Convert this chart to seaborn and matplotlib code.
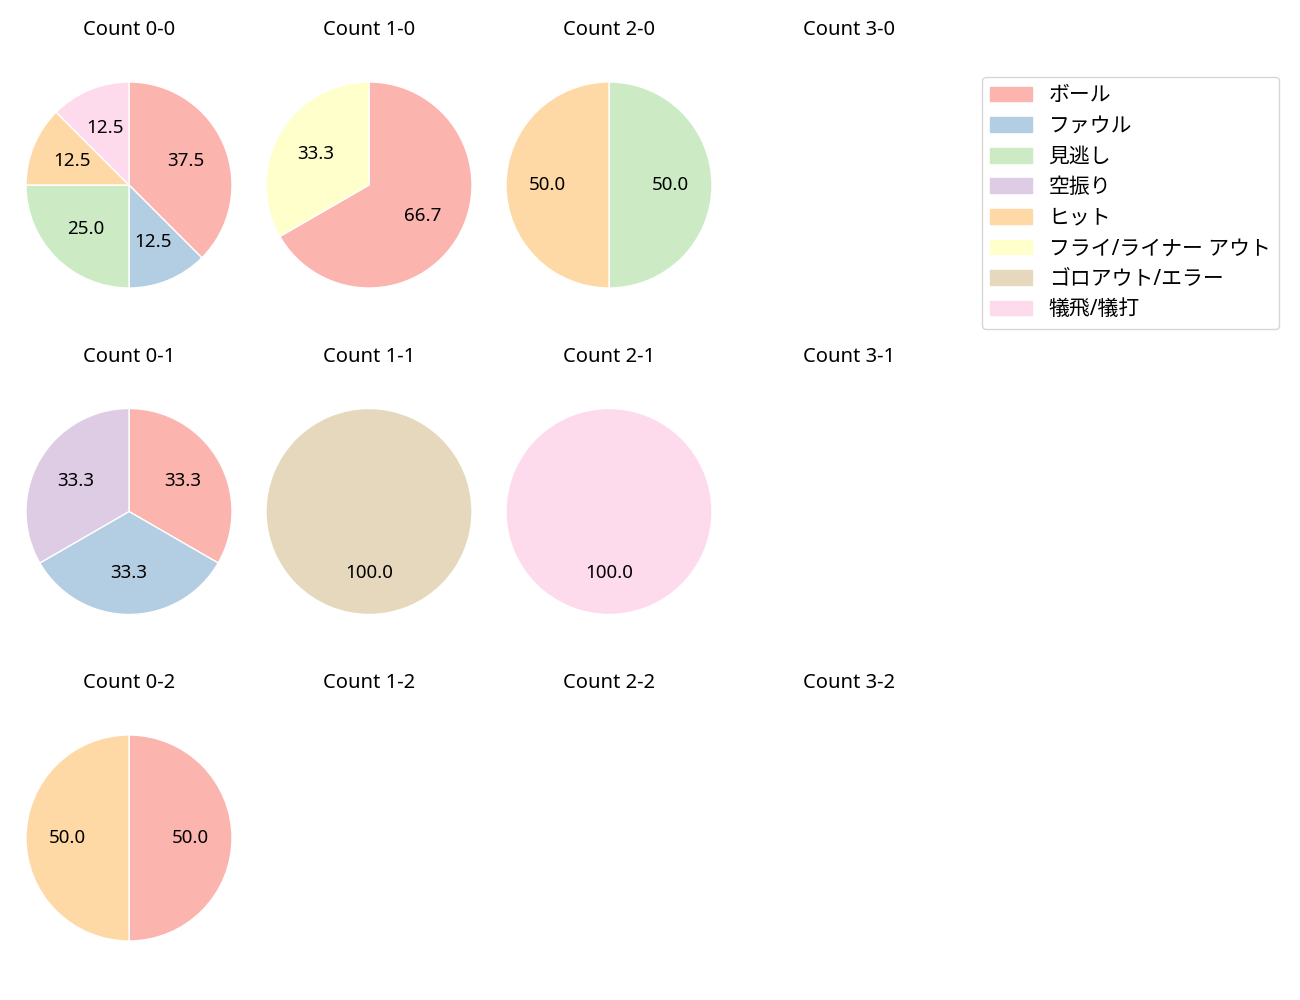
import matplotlib
matplotlib.use("Agg")
import matplotlib.pyplot as plt
import matplotlib.patches as mpatches
import seaborn as sns

sns.set_style("white")
plt.rcParams['font.family'] = ['Noto Sans', 'Noto Sans CJK JP', 'DejaVu Sans']
plt.rcParams['font.size'] = 15
plt.rcParams['text.color'] = 'black'

categories = ["ボール", "ファウル", "見逃し", "空振り", "ヒット",
              "フライ/ライナー アウト", "ゴロアウト/エラー", "犠飛/犠打"]
colors = sns.color_palette("Pastel1", 9)[:8]

# counts per (balls, strikes), in category order
counts = {
    "0-0": [3, 1, 2, 0, 1, 0, 0, 1],
    "1-0": [2, 0, 0, 0, 0, 1, 0, 0],
    "2-0": [0, 0, 1, 0, 1, 0, 0, 0],
    "3-0": [0, 0, 0, 0, 0, 0, 0, 0],
    "0-1": [1, 1, 0, 1, 0, 0, 0, 0],
    "1-1": [0, 0, 0, 0, 0, 0, 1, 0],
    "2-1": [0, 0, 0, 0, 0, 0, 0, 1],
    "3-1": [0, 0, 0, 0, 0, 0, 0, 0],
    "0-2": [1, 0, 0, 0, 1, 0, 0, 0],
    "1-2": [0, 0, 0, 0, 0, 0, 0, 0],
    "2-2": [0, 0, 0, 0, 0, 0, 0, 0],
    "3-2": [0, 0, 0, 0, 0, 0, 0, 0],
}

W, H = 1300, 1000
fig = plt.figure(figsize=(13, 10), dpi=100)

R = 103       # pie radius px
S = 230       # axes size px
L = S / (2 * R)

for strikes in range(3):
    for balls in range(4):
        key = f"{balls}-{strikes}"
        cx = 129 + 240 * balls
        cy = 185 + 326.5 * strikes
        ax = fig.add_axes([(cx - S / 2) / W, 1 - (cy + S / 2) / H, S / W, S / H])
        vals = counts[key]
        nz = [(v, c) for v, c in zip(vals, colors) if v > 0]
        if nz:
            ax.pie([v for v, _ in nz], colors=[c for _, c in nz],
                   autopct='%.1f', startangle=90, counterclock=False,
                   pctdistance=0.6, textprops={'fontsize': 13.5, 'color': 'black'})
        ax.set_xlim(-L, L)
        ax.set_ylim(-L, L)
        ax.set_aspect('equal')
        ax.axis('off')
        ax.set_title(f"Count {key}", pad=25, fontsize=14.5, color='black')

handles = [mpatches.Patch(color=c, label=l) for c, l in zip(colors, categories)]
fig.legend(handles=handles, loc='upper left',
           bbox_to_anchor=(982 / W, 1 - 77 / H), borderaxespad=0,
           fontsize=15, labelspacing=0.46)

fig.savefig("out.png", dpi=100)
